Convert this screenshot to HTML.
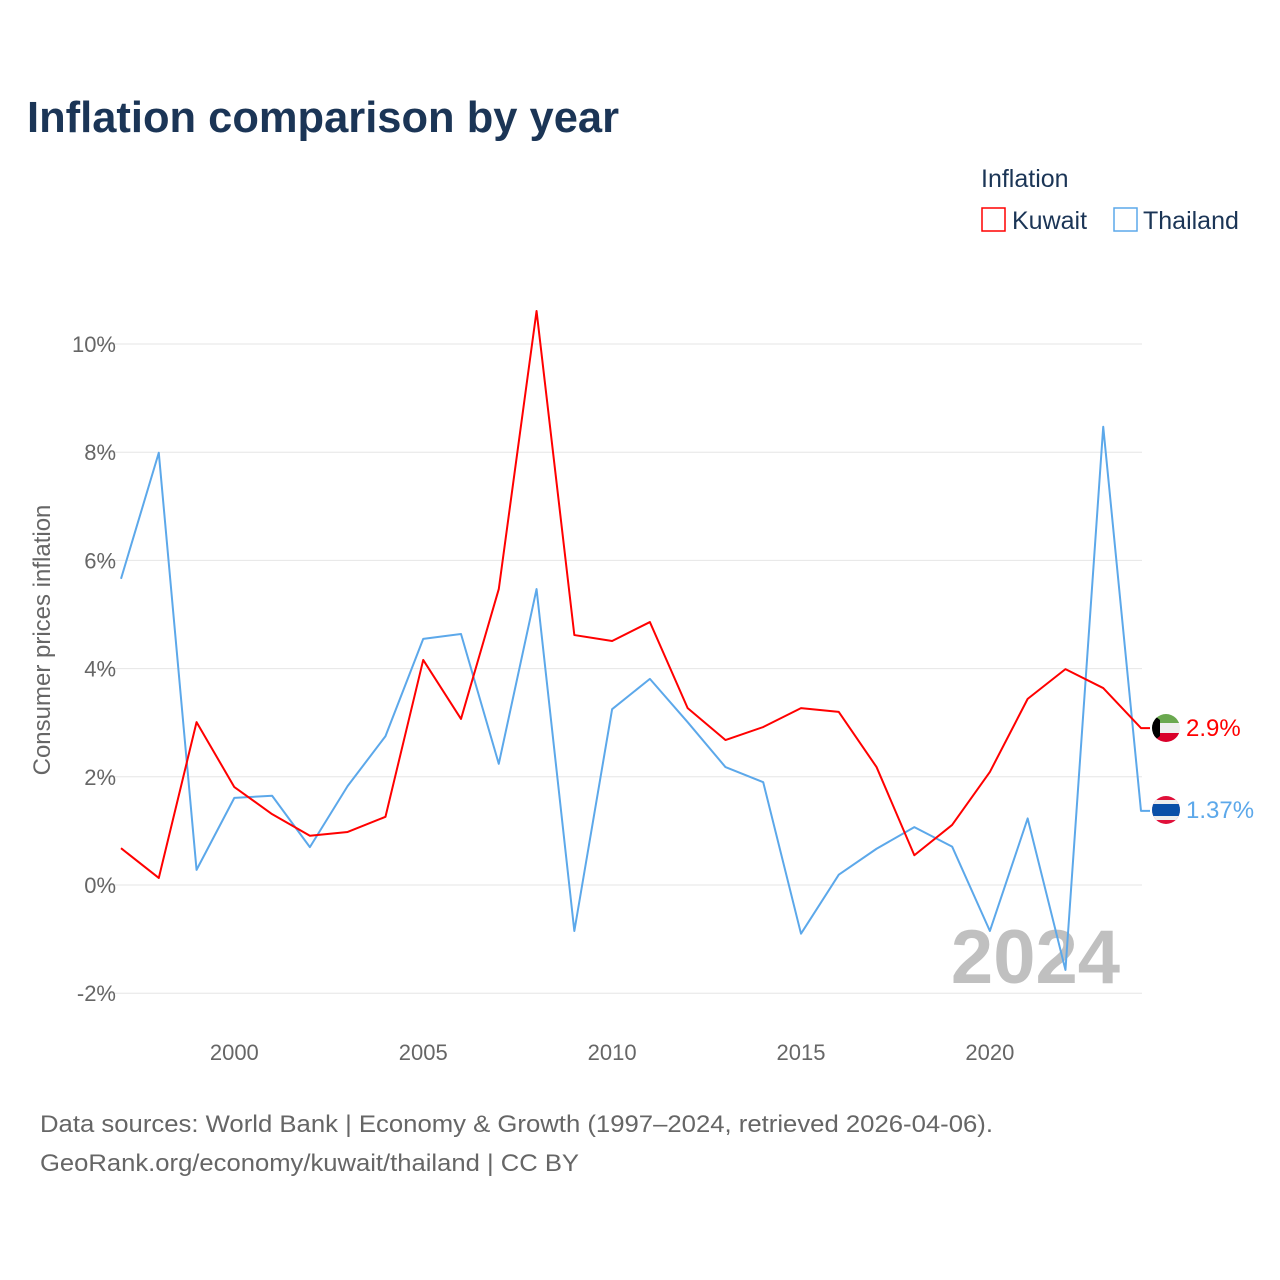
<!DOCTYPE html>
<html><head><meta charset="utf-8"><style>
body{margin:0;background:#fff;font-family:"Liberation Sans",sans-serif;}
svg{display:block}
</style></head><body>
<svg id="chart" width="1280" height="1280">
<rect width="1280" height="1280" fill="#fff"/>
<text x="27" y="132" font-size="44" font-weight="bold" fill="#1b3556" textLength="592" lengthAdjust="spacingAndGlyphs">Inflation comparison by year</text>
<text x="981" y="187" font-size="25" fill="#1b3556">Inflation</text>
<g><rect x="982" y="208" width="23" height="23" fill="none" stroke="#ff0000" stroke-width="1.5"/><text x="1012" y="229" font-size="25" fill="#1b3556">Kuwait</text></g>
<g><rect x="1114" y="208" width="23" height="23" fill="none" stroke="#5ca8ea" stroke-width="1.5"/><text x="1143" y="229" font-size="25" fill="#1b3556">Thailand</text></g>
<g id="grid"></g><g id="yticks"></g><g id="xticks"></g>
<text x="1120" y="983" font-size="76" font-weight="bold" fill="#c0c0c0" text-anchor="end">2024</text>
<g id="lines"></g>
<text transform="translate(50,640) rotate(-90)" font-size="24" fill="#666" text-anchor="middle">Consumer prices inflation</text>
<g>
<clipPath id="ck"><circle cx="1166" cy="728" r="14"/></clipPath>
<g clip-path="url(#ck)"><rect x="1150" y="712" width="32" height="11" fill="#6aa84f"/><rect x="1150" y="723" width="32" height="10" fill="#eee"/><rect x="1150" y="733" width="32" height="11" fill="#d9002a"/><polygon points="1150,712 1160,720 1160,736 1150,744" fill="#000"/></g></g>
<g>
<clipPath id="ct"><circle cx="1166" cy="810" r="14"/></clipPath>
<g clip-path="url(#ct)"><rect x="1150" y="794" width="32" height="32" fill="#e0103a"/><rect x="1150" y="800" width="32" height="20" fill="#eee"/><rect x="1150" y="804" width="32" height="12" fill="#0a4fa8"/></g></g>
<text x="1186" y="736" font-size="24" fill="#ff0000">2.9%</text>
<text x="1186" y="818" font-size="24" fill="#5ca8ea">1.37%</text>
<text x="40" y="1132" font-size="24" fill="#666" textLength="953" lengthAdjust="spacingAndGlyphs">Data sources: World Bank | Economy &amp; Growth (1997–2024, retrieved 2026-04-06).</text>
<text x="40" y="1171" font-size="24" fill="#666" textLength="539" lengthAdjust="spacingAndGlyphs">GeoRank.org/economy/kuwait/thailand | CC BY</text>
</svg>
<script>
const years=[1997,1998,1999,2000,2001,2002,2003,2004,2005,2006,2007,2008,2009,2010,2011,2012,2013,2014,2015,2016,2017,2018,2019,2020,2021,2022,2023,2024];
const kuwait=[0.68,0.13,3.01,1.81,1.31,0.91,0.98,1.26,4.16,3.07,5.47,10.61,4.62,4.51,4.86,3.27,2.68,2.92,3.27,3.20,2.18,0.55,1.11,2.09,3.44,3.99,3.64,2.90];
const thailand=[5.66,7.99,0.28,1.61,1.65,0.70,1.83,2.75,4.55,4.64,2.24,5.47,-0.85,3.25,3.81,3.01,2.18,1.90,-0.90,0.19,0.67,1.07,0.71,-0.85,1.23,-1.57,8.47,1.37];
const yTicks=[-2,0,2,4,6,8,10];
const xTicks=[2000,2005,2010,2015,2020];
const NS="http://www.w3.org/2000/svg";
const X=y=>121+(y-1997)*(1141-121)/27;
const Y=v=>885-v*54.1;
function mk(t,a,p){const e=document.createElementNS(NS,t);for(const k in a)e.setAttribute(k,a[k]);p.appendChild(e);return e;}
const g=document.getElementById('grid'),yt=document.getElementById('yticks'),xt=document.getElementById('xticks'),ln=document.getElementById('lines');
yTicks.forEach(v=>{
 const l=mk('line',{x1:100,x2:1142,y1:Y(v),y2:Y(v),stroke:'#e6e6e6','stroke-width':1},g);
 
 
 const t=mk('text',{x:116,y:Y(v)+8,'font-size':22,fill:'#666','text-anchor':'end'},yt);
 t.textContent=v+'%';
 
 
});
xTicks.forEach(v=>{
 const t=mk('text',{x:X(v),y:1060,'font-size':22,fill:'#666','text-anchor':'middle'},xt);
 t.textContent=v;
 
 
});
function line(d,c,n){
 let pts=d.map((v,i)=>X(years[i])+','+Y(v));
 pts.push((X(years[years.length-1])+9)+','+Y(d[d.length-1]));
 const p=mk('polyline',{points:pts.join(' '),fill:'none',stroke:c,'stroke-width':2,'stroke-linejoin':'round'},ln);
 
 
}
line(thailand,'#5ca8ea','thailand-line');
line(kuwait,'#ff0000','kuwait-line');
</script>
</body></html>
